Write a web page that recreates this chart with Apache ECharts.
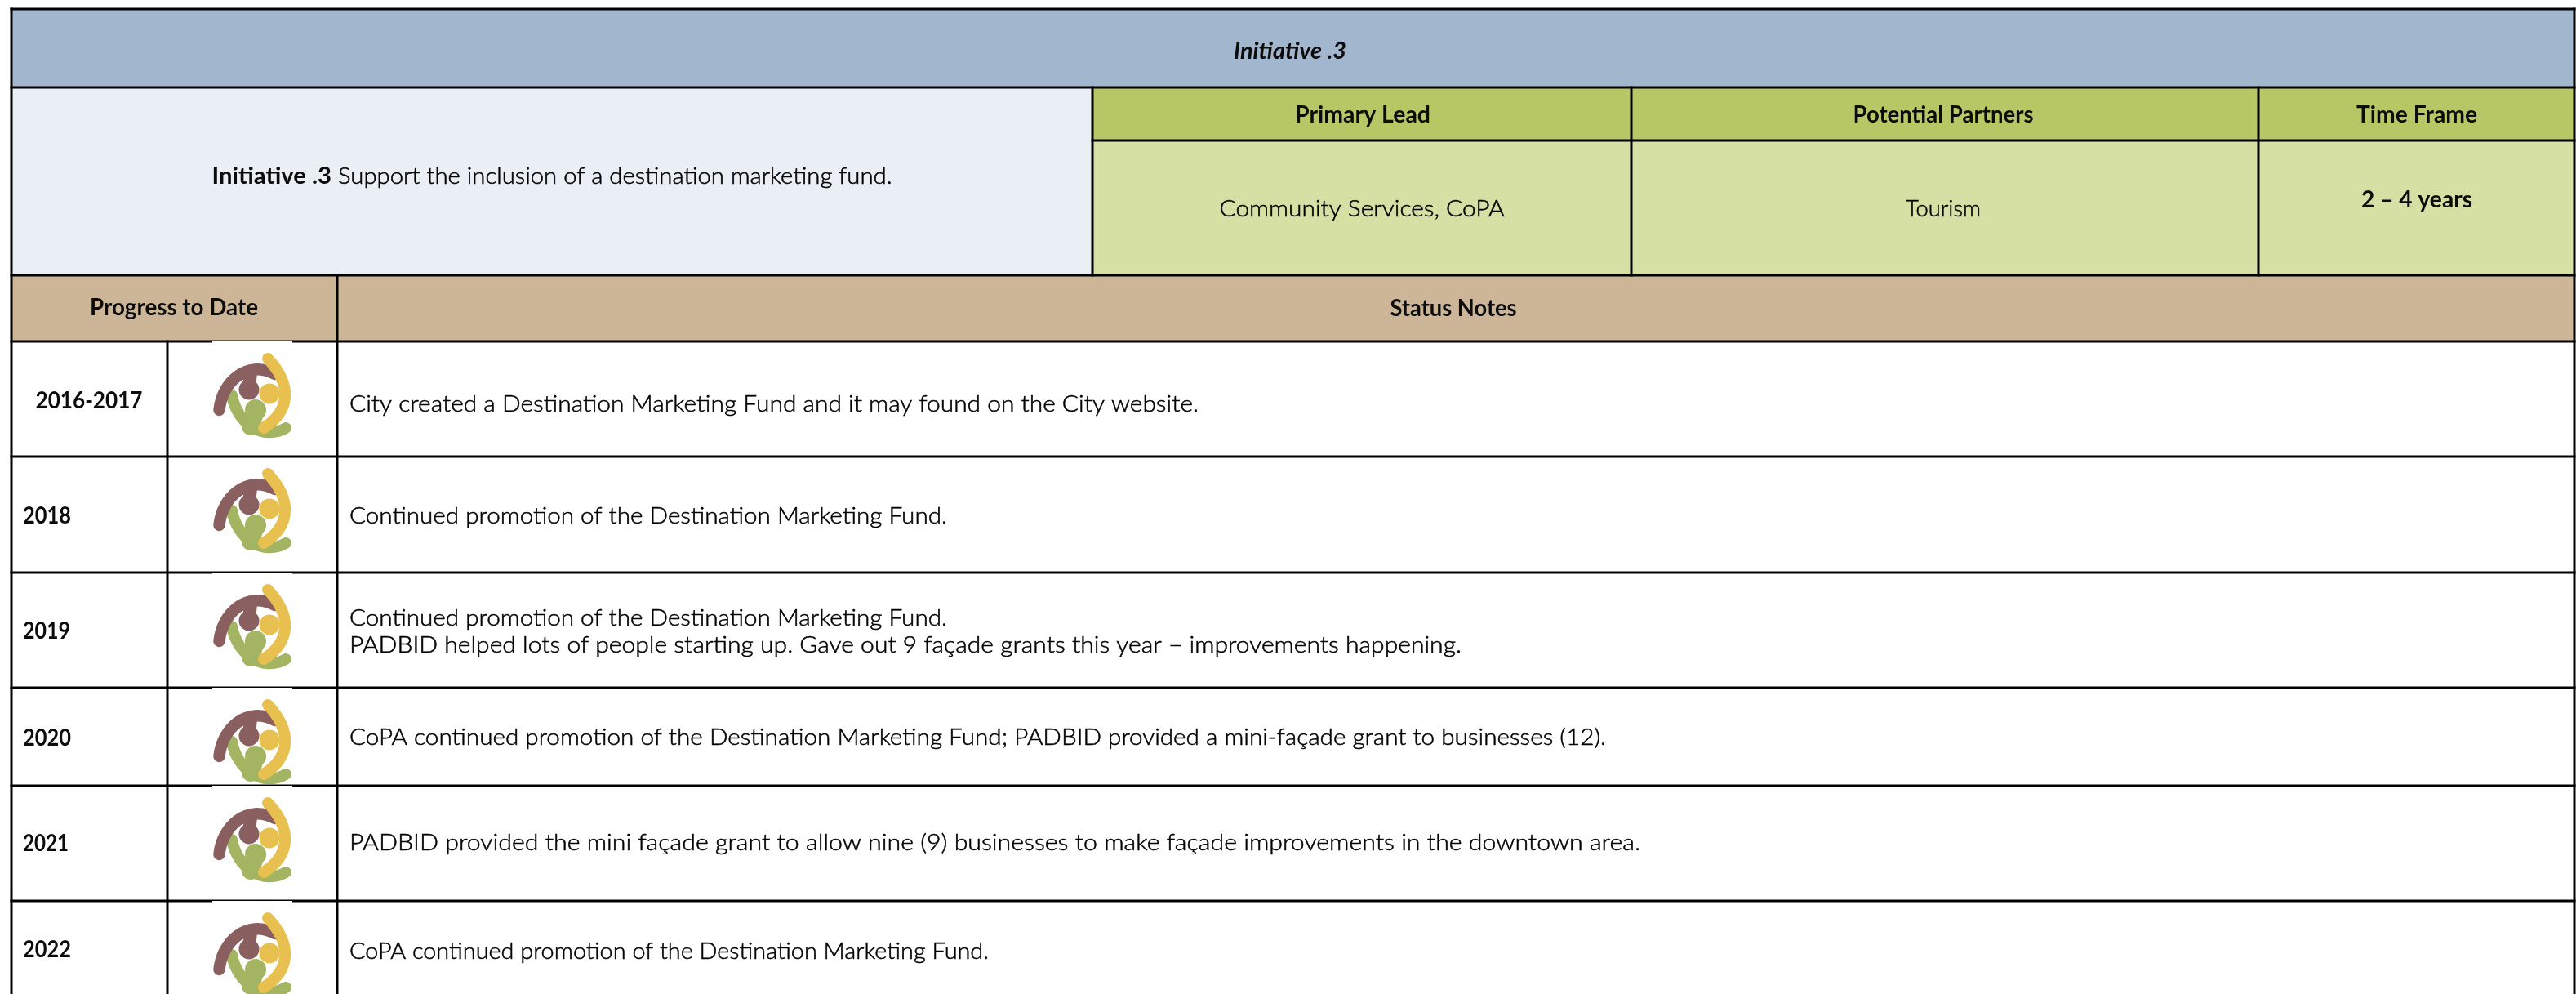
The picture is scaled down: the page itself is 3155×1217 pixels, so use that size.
<!DOCTYPE html>
<html>
<head>
<meta charset="utf-8">
<style>html,body{margin:0;padding:0;background:#fff}#c{width:3155px;height:1217px}</style>
<script src="https://cdn.jsdelivr.net/npm/echarts@6/dist/echarts.min.js"></script>
</head>
<body>
<div id="c"></div>
<script>
// ---- table content ----
const titleText = 'Initiative .3';
const initiativeLabel = 'Initiative .3';
const initiativeText = ' Support the inclusion of a destination marketing fund.';
const headerLabels = ['Primary Lead', 'Potential Partners', 'Time Frame'];
const headerValues = ['Community Services, CoPA', 'Tourism', '2 – 4 years'];
const sectionLabels = ['Progress to Date', 'Status Notes'];
const years = ['2016-2017', '2018', '2019', '2020', '2021', '2022'];
const notes = [
  ['City created a Destination Marketing Fund and it may found on the City website.'],
  ['Continued promotion of the Destination Marketing Fund.'],
  ['Continued promotion of the Destination Marketing Fund.', 'PADBID helped lots of people starting up. Gave out 9 façade grants this year – improvements happening.'],
  ['CoPA continued promotion of the Destination Marketing Fund; PADBID provided a mini-façade grant to businesses (12).'],
  ['PADBID provided the mini façade grant to allow nine (9) businesses to make façade improvements in the downtown area.'],
  ['CoPA continued promotion of the Destination Marketing Fund.']
];

// ---- layout ----
const W = 3155, H = 1217;
const xs = [14, 205, 413, 1338, 1998, 2766, 3153];
const ys = [11, 107, 172, 337, 418, 559, 701, 842, 962, 1103, 1217];
const noteY = [[495], [632], [757, 790], [903], [1032], [1165]];
const noteW = [[1040], [732], [732, 1362], [1539], [1581], [783]];
const yearY = [491, 632, 773, 904, 1033, 1163];
const yearW = [131, 59, 58, 59, 56, 59];
const logoRowTop = [418, 559, 701, 842, 962, 1103];
const logoCoversRule = [true, false, true, true, true, true];
const FONT = 'Lato';
const BODY = {fontFamily: FONT, fontSize: 28, fontWeight: 300, fill: '#000000', thicken: 0.5};
const BOLD = {fontFamily: FONT, fontSize: 28, fontWeight: 700, fill: '#0c0c0c'};
const YEAR = {fontFamily: FONT, fontSize: 28, fontWeight: 700, fill: '#0c0c0c'};

const fills = [
  [0, 6, 0, 1, '#A2B7CE'], [0, 3, 1, 3, '#E9EFF4'], [3, 6, 1, 2, '#B8C766'],
  [3, 6, 2, 3, '#D6DFA4'], [0, 6, 3, 4, '#CDB597'], [0, 6, 4, 10, '#FFFFFF']
];
const rules = [
  [0, 6, 0, 0], [0, 6, 1, 1], [3, 6, 2, 2], [0, 6, 3, 3], [0, 6, 4, 4], [0, 6, 5, 5],
  [0, 6, 6, 6], [0, 6, 7, 7], [0, 6, 8, 8], [0, 6, 9, 9],
  [0, 0, 0, 10], [6, 6, 0, 10], [3, 3, 1, 3], [4, 4, 1, 3], [5, 5, 1, 3],
  [2, 2, 3, 10], [1, 1, 4, 10]
];
const texts = [
  {x: 1580, y: 63, w: 138, text: titleText, s: BOLD, italic: true},
  {x: 676, y: 216, w: 833, text: '{b|' + initiativeLabel + '}' + '{n|' + initiativeText + '}', plain: [initiativeLabel, initiativeText], s: BODY, rich: true},
  {x: 1669, y: 141, w: 166, text: headerLabels[0], s: BOLD},
  {x: 2380, y: 141, w: 221, text: headerLabels[1], s: BOLD},
  {x: 2960, y: 141, w: 148, text: headerLabels[2], s: BOLD},
  {x: 1668, y: 256, w: 349, text: headerValues[0], s: BODY},
  {x: 2380, y: 256, w: 92, text: headerValues[1], s: BODY},
  {x: 2960, y: 245, w: 136, text: headerValues[2], s: BOLD},
  {x: 213, y: 377, w: 206, text: sectionLabels[0], s: BOLD},
  {x: 1780, y: 378, w: 155, text: sectionLabels[1], s: BOLD}
];
years.forEach((t, i) => texts.push(
  i === 0 ? {x: 109, y: yearY[i], w: yearW[i], text: t, s: YEAR} : {x: 28, y: yearY[i], w: yearW[i], text: t, s: YEAR, left: true}));
notes.forEach((lines, i) => lines.forEach((t, j) =>
  texts.push({x: 428, y: noteY[i][j], w: noteW[i][j], text: t, s: BODY, left: true})));

const ctx = document.createElement('canvas').getContext('2d');
function measure(t, s, italic) {
  ctx.font = (italic ? 'italic ' : '') + s.fontWeight + ' ' + s.fontSize + 'px ' + s.fontFamily;
  return ctx.measureText(t).width;
}
function textEl(d, api) {
  const p = api.coord([d.x, d.y]);
  const natural = d.rich ? measure(d.plain[0], BOLD) + measure(d.plain[1], BODY) : measure(d.text, d.s, d.italic);
  const style = {
    text: d.text, x: 0, y: 0, align: d.left ? 'left' : 'center', verticalAlign: 'middle',
    fill: d.s.fill, fontFamily: d.s.fontFamily, fontSize: d.s.fontSize, fontWeight: d.s.fontWeight,
    fontStyle: d.italic ? 'italic' : 'normal'
  };
  if (d.s.thicken && !d.rich) { style.stroke = d.s.fill; style.lineWidth = d.s.thicken; }
  if (d.rich) {
    style.rich = {
      b: {fontFamily: FONT, fontSize: BOLD.fontSize, fontWeight: 700, fill: BOLD.fill},
      n: {fontFamily: FONT, fontSize: BODY.fontSize, fontWeight: BODY.fontWeight, fill: BODY.fill, stroke: BODY.fill, lineWidth: BODY.thicken}
    };
  }
  return {type: 'text', x: p[0], y: p[1], scaleX: d.w / natural, style};
}

// logo drawn in its own box coordinates
function logoEl(idx, api) {
  const p = api.coord([260, logoRowTop[idx]]);
  const stroke = (c, w) => ({stroke: c, lineWidth: w, fill: null, lineCap: 'round'});
  const brown = '#8A5F5F', yellow = '#E8C050', green = '#A3B562';
  const top = logoCoversRule[idx] ? 0 : 2;
  return {
    type: 'group', x: p[0], y: p[1],
    children: [
      {type: 'rect', shape: {x: 0, y: top, width: 98, height: 114 - top}, style: {fill: '#FFFFFF'}},
      {type: 'bezierCurve', shape: {x1: 24, y1: 66, cpx1: 30, cpy1: 100, cpx2: 62, cpy2: 122, x2: 90, y2: 106}, style: stroke(green, 14)},
      {type: 'polygon', shape: {points: [[22, 62], [37, 89], [53, 96], [60, 111], [33, 99]]}, style: {fill: green}},
      {type: 'line', shape: {x1: 53, y1: 84, x2: 47, y2: 104}, style: stroke(green, 22)},
      {type: 'circle', shape: {cx: 53, cy: 84, r: 13}, style: {fill: green}},
      {type: 'bezierCurve', shape: {x1: 8.5, y1: 84, cpx1: 12, cpy1: 50, cpx2: 42, cpy2: 22, x2: 77, y2: 40}, style: stroke(brown, 14.5)},
      {type: 'line', shape: {x1: 45, y1: 59, x2: 47, y2: 38}, style: stroke(brown, 16)},
      {type: 'circle', shape: {cx: 45, cy: 59, r: 12.5}, style: {fill: brown}},
      {type: 'circle', shape: {cx: 70, cy: 64, r: 12.5}, style: {fill: yellow}},
      {type: 'bezierCurve', shape: {x1: 68, y1: 21, cpx1: 97, cpy1: 52, cpx2: 97, cpy2: 84, x2: 63, y2: 106}, style: stroke(yellow, 14)}
    ]
  };
}

const base = {type: 'custom', coordinateSystem: 'cartesian2d', silent: true, clip: false, animation: false, encode: {x: 0, y: 1}};
const chart = echarts.init(document.getElementById('c'), null, {renderer: 'canvas', width: W, height: H});
chart.setOption({
  animation: false,
  backgroundColor: '#ffffff',
  grid: {left: 0, right: 0, top: 0, bottom: 0},
  xAxis: {type: 'value', min: 0, max: W, show: false},
  yAxis: {type: 'value', min: 0, max: H, inverse: true, show: false},
  tooltip: {show: false},
  series: [
    Object.assign({}, base, {
      name: 'fills', z: 1, data: fills.map((f, i) => [xs[f[0]], ys[f[2]], i]),
      renderItem(params, api) {
        const f = fills[params.dataIndex];
        const a = api.coord([xs[f[0]], ys[f[2]]]), b = api.coord([xs[f[1]], ys[f[3]]]);
        return {type: 'rect', shape: {x: a[0], y: a[1], width: b[0] - a[0], height: b[1] - a[1]}, style: {fill: f[4]}};
      }
    }),
    Object.assign({}, base, {
      name: 'rules', z: 2, data: rules.map((r, i) => [xs[r[0]], ys[r[2]], i]),
      renderItem(params, api) {
        const r = rules[params.dataIndex];
        const a = api.coord([xs[r[0]], ys[r[2]]]), b = api.coord([xs[r[1]], ys[r[3]]]);
        return {type: 'line', shape: {x1: a[0], y1: a[1], x2: b[0], y2: b[1]}, style: {stroke: '#000', lineWidth: 3, lineCap: 'square'}};
      }
    }),
    Object.assign({}, base, {
      name: 'logos', z: 3, data: logoRowTop.map((t, i) => [260, t, i]),
      renderItem(params, api) { return logoEl(params.dataIndex, api); }
    }),
    Object.assign({}, base, {
      name: 'texts', z: 4, data: texts.map((t, i) => [t.x, t.y, i]),
      renderItem(params, api) { return textEl(texts[params.dataIndex], api); }
    })
  ]
});
</script>
</body>
</html>
